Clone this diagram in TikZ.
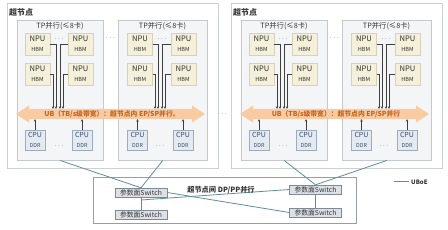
\documentclass[tikz,border=0pt]{standalone}
\usepackage{fontspec}
\setmainfont{Noto Sans CJK SC}
\usetikzlibrary{arrows.meta}
\definecolor{outerc}{HTML}{CDD0D4}
\definecolor{innerfill}{HTML}{F4F5F7}
\definecolor{innerdraw}{HTML}{C6CACF}
\definecolor{npufill}{HTML}{F4F0D9}
\definecolor{npudraw}{HTML}{D6D2BA}
\definecolor{cpufill}{HTML}{E4EAF1}
\definecolor{cpudraw}{HTML}{9CACBE}
\definecolor{cputxt}{HTML}{3E4E62}
\definecolor{bandfill}{HTML}{F8CBA3}
\definecolor{bandtextc}{HTML}{C4641C}
\definecolor{swfill}{HTML}{DDE1E6}
\definecolor{swdraw}{HTML}{7F8A96}
\definecolor{linkc}{HTML}{5E8E9E}
\definecolor{lineg}{HTML}{404040}
\definecolor{txt}{HTML}{333333}
\definecolor{dpdraw}{HTML}{9A9EA3}
\newcommand\npulabel{{\fontsize{7.6}{8.5}\selectfont NPU}\\[-1.8pt]{\fontsize{5.6}{6.5}\selectfont HBM}}
\newcommand\cpulabel{{\fontsize{7}{8}\selectfont CPU}\\[-2pt]{\fontsize{5.4}{6.2}\selectfont DDR}}
\tikzset{
 outerbox/.style={draw=outerc, fill=white, line width=0.6pt, inner sep=0pt},
 tpbox/.style={draw=innerdraw, fill=innerfill, line width=0.5pt, inner sep=0pt},
 npu/.style={draw=npudraw, fill=npufill, minimum width=25pt, minimum height=22pt, inner sep=0pt, align=center, text=txt},
 cpu/.style={draw=cpudraw, fill=cpufill, minimum width=20pt, minimum height=20pt, inner sep=0pt, align=center, text=cputxt},
 sw/.style={draw=swdraw, fill=swfill, minimum width=52pt, minimum height=9pt, inner sep=0pt, font=\fontsize{6.8}{7}\selectfont, text=txt},
 npuline/.style={draw=lineg, line width=0.6pt, -{Stealth[length=2.6pt,width=2.3pt]}},
 link/.style={draw=linkc, line width=0.8pt},
 dots/.style={font=\fontsize{6.5}{6.5}\selectfont, text=txt, inner sep=0pt},
 titletext/.style={font=\bfseries\fontsize{8}{8}\selectfont, text=txt, inner sep=0pt},
 tptext/.style={font=\fontsize{7.3}{8}\selectfont, text=txt, inner sep=0pt},
 bandtext/.style={font=\bfseries\fontsize{6.8}{7}\selectfont, text=bandtextc, inner sep=0pt},
 band/.style={fill=bandfill, draw=none},
 dpbox/.style={draw=dpdraw, fill=white, line width=0.6pt, inner sep=0pt},
 dptext/.style={font=\bfseries\fontsize{7.2}{8}\selectfont, text=txt, inner sep=0pt},
}
\newcommand\mysupernode[1]{%
 \node[outerbox, anchor=north west, minimum width=211pt, minimum height=165pt] (outer) at (7,3) {};
 \node[titletext, anchor=west] (title) at (9,12) {超节点};
 \node[tpbox, anchor=north west, minimum width=86pt, minimum height=140pt] (tp1) at (17,20) {};
 \node[tpbox, anchor=north west, minimum width=89pt, minimum height=140pt] (tp2) at (118,20) {};
 \node[tptext] (tp1t) at (60,26.5) {TP并行(≤8卡)};
 \node[tptext] (tp2t) at (162.5,26.5) {TP并行(≤8卡)};
 \node[npu] (p1) at (37.5,44) {\npulabel};
 \node[npu] (p2) at (80.5,44) {\npulabel};
 \node[npu] (p3) at (37.5,74) {\npulabel};
 \node[npu] (p4) at (80.5,74) {\npulabel};
 \node[npu] (q1) at (140,44) {\npulabel};
 \node[npu] (q2) at (183.5,44) {\npulabel};
 \node[npu] (q3) at (140,74) {\npulabel};
 \node[npu] (q4) at (183.5,74) {\npulabel};
 \node[dots] (pd) at (59,39) {$\cdots$};
 \node[dots] (qd) at (162,39) {$\cdots$};
 \node[dots] (td) at (110.5,38) {$\cdots$};
 \path[band] (16,114) -- (29,105.5) -- (29,109) -- (192,109) -- (192,105.5) -- (205,114)
   -- (192,122.5) -- (192,119) -- (29,119) -- (29,122.5) -- cycle;
 \coordinate (e1) at (53,109); \coordinate (e2) at (56,109);
 \coordinate (e3) at (60,109); \coordinate (e4) at (63,109);
 \coordinate (f1) at (155,109); \coordinate (f2) at (158,109);
 \coordinate (f3) at (162,109); \coordinate (f4) at (165,109);
 \draw[npuline] (p3.east) -| (e1);
 \draw[npuline] (p1.east) -| (e2);
 \draw[npuline] (p2.west) -| (e3);
 \draw[npuline] (p4.west) -| (e4);
 \draw[npuline] (q3.east) -| (f1);
 \draw[npuline] (q1.east) -| (f2);
 \draw[npuline] (q2.west) -| (f3);
 \draw[npuline] (q4.west) -| (f4);
 \node[bandtext] (bt) at (112,114) {UB（TB/s级带宽）：超节点内 EP/SP并行#1};
 \node[cpu] (c1) at (35,140) {\cpulabel};
 \node[cpu] (c2) at (82,140) {\cpulabel};
 \node[cpu] (c3) at (137.5,140) {\cpulabel};
 \node[cpu] (c4) at (183,140) {\cpulabel};
 \coordinate (g1) at (35,119); \coordinate (g2) at (82,119);
 \coordinate (g3) at (137.5,119); \coordinate (g4) at (183,119);
 \draw[npuline] (c1.north) -- (g1);
 \draw[npuline] (c2.north) -- (g2);
 \draw[npuline] (c3.north) -- (g3);
 \draw[npuline] (c4.north) -- (g4);
 \node[dots] (cd1) at (59,146) {$\cdots$};
 \node[dots] (cd2) at (160,146) {$\cdots$};
}
\begin{document}
\begin{tikzpicture}[x=1pt,y=-1pt]
\useasboundingbox (0,0) rectangle (448,230);
\fill[white] (0,0) rectangle (448,230);
\begin{scope}[name prefix=a-]
 \mysupernode{。}
\end{scope}
\begin{scope}[shift={(224,0)}, name prefix=b-]
 \mysupernode{}
\end{scope}
\node[dots] (sd) at (222.5,114) {$\cdots$};
\node[dpbox, anchor=north west, minimum width=263pt, minimum height=46pt] (dp) at (93,177) {};
\node[sw] (lt) at (141,192.5) {参数面Switch};
\node[sw] (lb) at (141,214.5) {参数面Switch};
\node[sw] (rt) at (315.5,189.5) {参数面Switch};
\node[sw] (rb) at (315.5,212.5) {参数面Switch};
\coordinate (lv) at (141,200);
\draw[link] (a-tp1.south) -- (lt.north);
\draw[link] (a-tp2.south) -- (lt.north);
\draw[link] (b-tp1.south) -- (rt.north);
\draw[link] (b-tp2.south) -- (rt.north);
\draw[link] (lt.south) -- (lb.north);
\draw[link] (rt.south) -- (rb.north);
\draw[link] (lt.east) -- (rb.west);
\draw[link] (lv) -- (rt.west);
\node[dptext] (dpl) at (221,190.5) {超节点间 DP/PP并行};
\coordinate (lg1) at (394,182);
\coordinate (lg2) at (409,182);
\draw[link, line width=1pt] (lg1) -- (lg2);
\node[dptext, anchor=west, font=\bfseries\fontsize{6}{7}\selectfont] (lgt) at (411,182) {UBoE};
\end{tikzpicture}
\end{document}
